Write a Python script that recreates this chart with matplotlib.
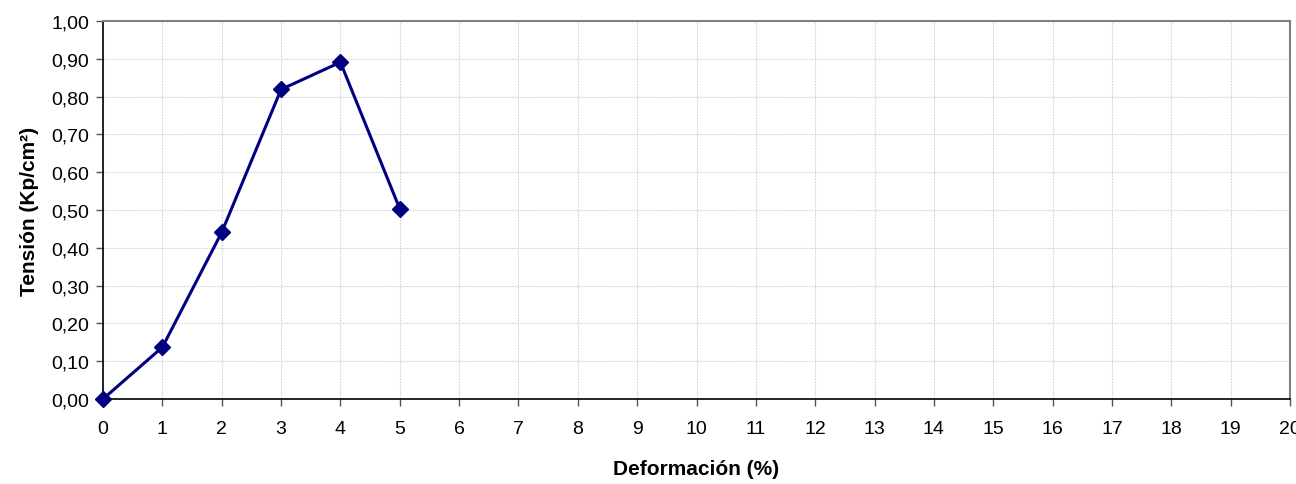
import matplotlib
matplotlib.use("Agg")
import matplotlib.pyplot as plt
from matplotlib import font_manager
from matplotlib.ticker import FuncFormatter

# Test data: strain (%) vs. stress (kp/cm²)
deformacion = [0, 1, 2, 3, 4, 5]
tension = [0.00, 0.137, 0.441, 0.819, 0.891, 0.503]

x_ticks = list(range(0, 21))
y_ticks = [i / 10 for i in range(0, 11)]

names = {f.name for f in font_manager.fontManager.ttflist}
family = ["Liberation Sans Narrow"] if "Liberation Sans Narrow" in names else ["Liberation Sans"]
plt.rcParams["font.family"] = family + ["DejaVu Sans"]

fig = plt.figure(figsize=(12.96, 4.85), dpi=100)
ax = fig.add_axes([0.0795, 0.1753, 0.9159, 0.7793])

ax.plot(deformacion, tension, color="#000080", linewidth=2.2, marker="D",
        markersize=8, markerfacecolor="#000080", markeredgecolor="#000080",
        clip_on=False, zorder=3)

ax.set_xlim(0, 20)
ax.set_ylim(0, 1.0)
ax.set_xticks(x_ticks)
ax.set_yticks(y_ticks)
ax.yaxis.set_major_formatter(FuncFormatter(lambda v, p: f"{v:.2f}".replace(".", ",")))

ax.grid(True, color="#d4d4d4", linestyle=(0, (1.5, 1.0)), linewidth=0.8)
ax.set_axisbelow(True)

for side in ("left", "bottom"):
    ax.spines[side].set_color("black")
    ax.spines[side].set_linewidth(1.2)
for side in ("top", "right"):
    ax.spines[side].set_color("#808080")
    ax.spines[side].set_linewidth(1.5)

ax.tick_params(axis="both", direction="out", length=5, width=1, color="#555555",
               labelsize=14, labelcolor="black")
ax.tick_params(axis="x", pad=10)
ax.tick_params(axis="y", pad=5)

ax.set_xlabel("Deformación (%)", fontsize=15, fontweight="bold", labelpad=16)
ax.set_ylabel("Tensión (Kp/cm²)", fontsize=15, fontweight="bold", labelpad=9)

fig.savefig("out.png", dpi=100)
